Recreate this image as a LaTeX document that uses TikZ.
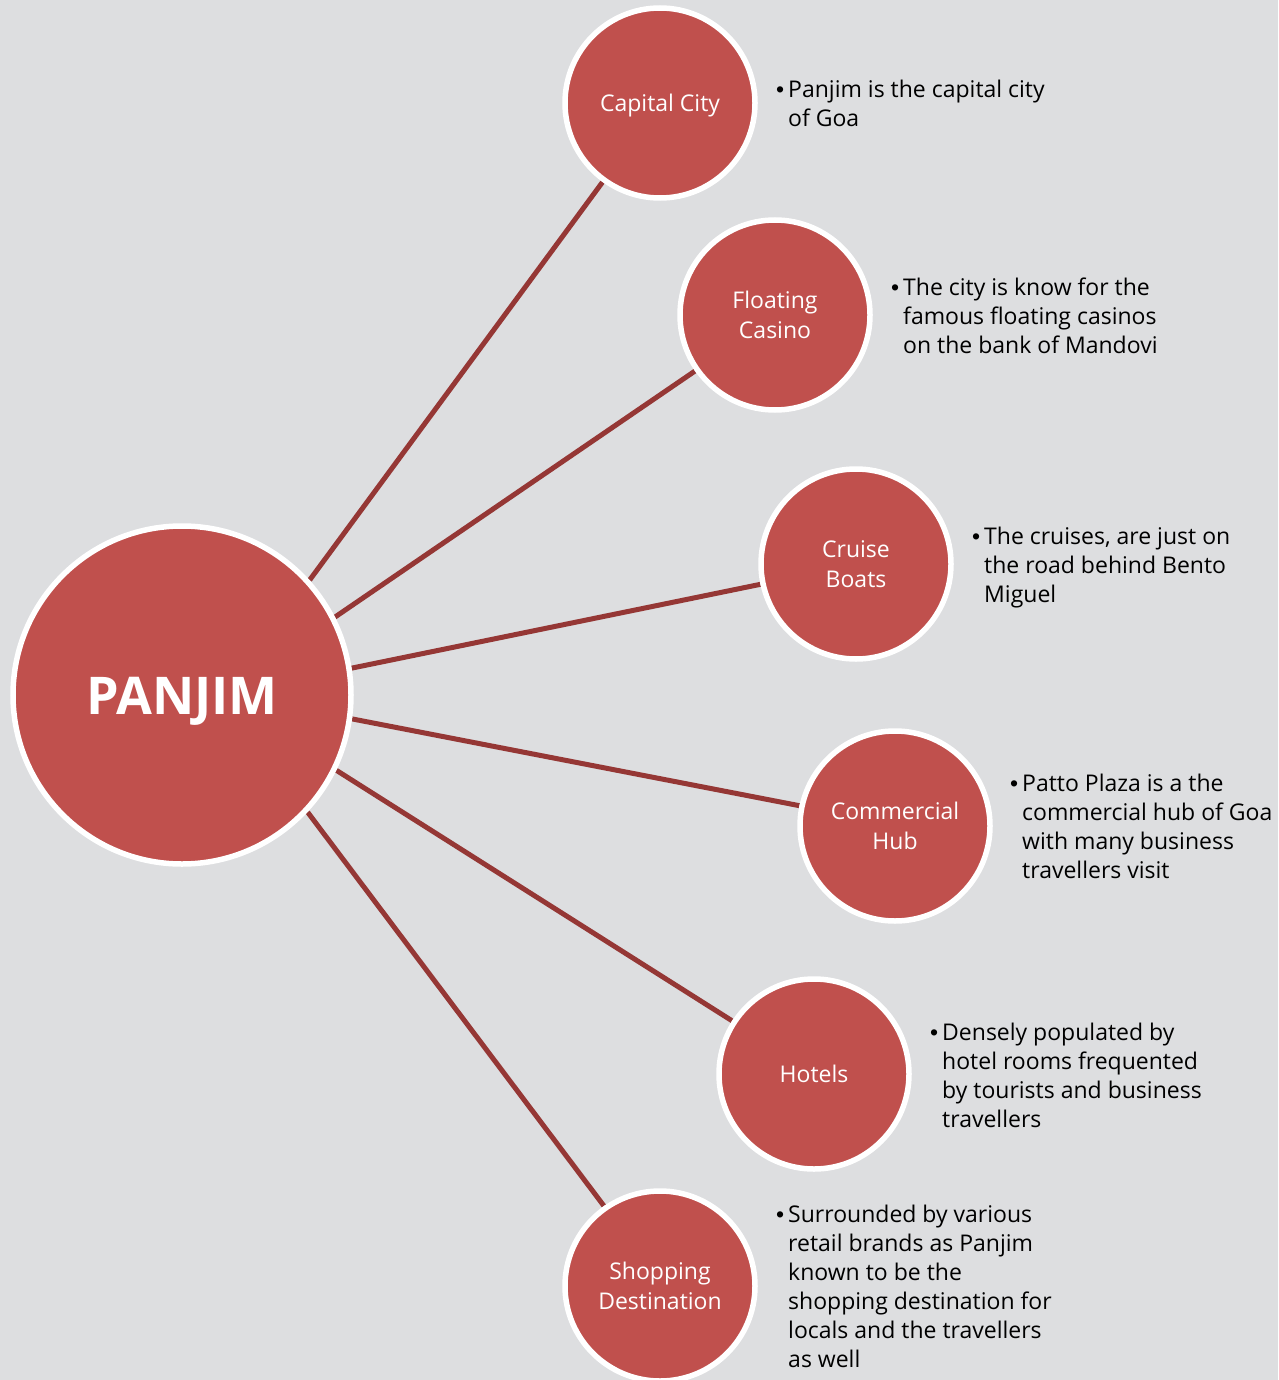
\documentclass[tikz,border=0pt]{standalone}
\usepackage{fontspec}
\setmainfont{Open Sans}
\newfontfamily\bulfont{Liberation Sans}
\usetikzlibrary{backgrounds}
\definecolor{bgc}{HTML}{DDDEE0}
\definecolor{redfill}{HTML}{C0504D}
\definecolor{redline}{HTML}{953735}
\newcommand{\bul}{\makebox[12pt][l]{\bulfont •}}
\begin{document}
\begin{tikzpicture}[x=1pt,y=-1pt,
  hub/.style={circle, fill=redfill, draw=white, line width=5.5pt, minimum size=338pt, inner sep=0pt},
  hubtext/.style={text=white, font=\fontsize{52}{60}\selectfont\bfseries, inner sep=0pt},
  sat/.style={circle, fill=redfill, draw=white, line width=5.5pt, minimum size=190pt, inner sep=0pt, text=white, align=center, font=\fontsize{23}{29.5}\selectfont},
  link/.style={draw=redline, line width=5pt},
  note/.style={anchor=base west, inner sep=0pt, font=\fontsize{23}{29}\selectfont, text=black}]
\useasboundingbox (0,0) rectangle (1278,1380);

\node[hub, label={[hubtext, yshift=-6pt]center:PANJIM}] (hub) at (182,695) {};

\node[sat, text depth=0pt] (cap) at (660,103) {Capital City};
\node[sat] (cas) at (775,315) {Floating\\Casino};
\node[sat] (cru) at (856,564) {Cruise\\Boats};
\node[sat] (com) at (895,826) {Commercial\\Hub};
\node[sat] (hot) at (814,1074) {Hotels};
\node[sat] (sho) at (660,1286) {Shopping\\Destination};

\node[note] (ncap) at (776,98) {\begin{tabular}[t]{@{}l@{}l@{}}\bul&Panjim is the capital city\\&of Goa\end{tabular}};
\node[note] (ncas) at (891,295) {\begin{tabular}[t]{@{}l@{}l@{}}\bul&The city is know for the\\&famous floating casinos\\&on the bank of Mandovi\end{tabular}};
\node[note] (ncru) at (972,544) {\begin{tabular}[t]{@{}l@{}l@{}}\bul&The cruises, are just on\\&the road behind Bento\\&Miguel\end{tabular}};
\node[note] (ncom) at (1010,791) {\begin{tabular}[t]{@{}l@{}l@{}}\bul&Patto Plaza is a the\\&commercial hub of Goa\\&with many business\\&travellers visit\end{tabular}};
\node[note] (nhot) at (930,1040) {\begin{tabular}[t]{@{}l@{}l@{}}\bul&Densely populated by\\&hotel rooms frequented\\&by tourists and business\\&travellers\end{tabular}};
\node[note] (nsho) at (776,1222) {\begin{tabular}[t]{@{}l@{}l@{}}\bul&Surrounded by various\\&retail brands as Panjim\\&known to be the\\&shopping destination for\\&locals and the travellers\\&as well\end{tabular}};

\begin{scope}[on background layer]
\fill[bgc] (0,0) rectangle (1278,1380);
\draw[link] (hub.42.7) -- (cap.234.5);
\draw[link] (hub.27.4) -- (cas.215.5);
\draw[link] (hub.9.4) -- (cru.192.6);
\draw[link] (hub.-8.4) -- (com.168);
\draw[link] (hub.-26) -- (hot.147.3);
\draw[link] (hub.-43.2) -- (sho.125.8);
\end{scope}
\end{tikzpicture}
\end{document}
